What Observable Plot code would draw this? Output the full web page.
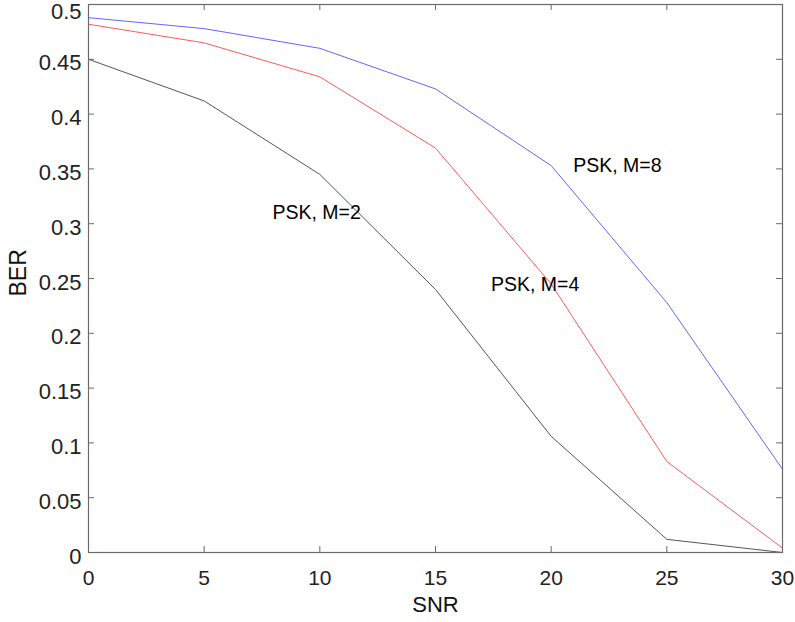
<!DOCTYPE html>
<html>
<head>
<meta charset="utf-8">
<script src="https://cdn.jsdelivr.net/npm/d3@7"></script>
<script src="https://cdn.jsdelivr.net/npm/@observablehq/plot@0.6"></script>
<style>
  html, body { margin: 0; padding: 0; background: #fff; }
  #chart svg { display: block; }
</style>
</head>
<body>
<div id="chart"></div>
<script>
const snr = [0, 5, 10, 15, 20, 25, 30];
const berM2 = [0.450, 0.412, 0.345, 0.240, 0.106, 0.012, 0.000];
const berM4 = [0.482, 0.465, 0.434, 0.369, 0.245, 0.083, 0.004];
const berM8 = [0.488, 0.478, 0.460, 0.423, 0.353, 0.228, 0.076];
const seriesNames = ["PSK, M=2", "PSK, M=4", "PSK, M=8"];
const seriesColors = ["#555555", "#ff5a5a", "#6464ff"];
const labelX = [7.95, 17.4, 20.95];
const labelY = [0.310, 0.244, 0.353];
const xTicks = [0, 5, 10, 15, 20, 25, 30];
const yTicks = [0, 0.05, 0.1, 0.15, 0.2, 0.25, 0.3, 0.35, 0.4, 0.45, 0.5];

const allSeries = [berM2, berM4, berM8];
const rows = allSeries.flatMap((vals, i) =>
  vals.map((v, j) => ({snr: snr[j], ber: v, series: seriesNames[i]})));
const labels = seriesNames.map((name, i) => ({name, x: labelX[i], y: labelY[i]}));
const yTop = yTicks[yTicks.length - 1];

const font = "Liberation Sans, Arial, Helvetica, sans-serif";
const W = 795, H = 622, ML = 88, MR = 13, MT = 4, MB = 70;
const plotW = W - ML - MR, plotH = H - MT - MB, tick = 6;
const axisColor = "#6a6a6a";

const chart = Plot.plot({
  width: W,
  height: H,
  marginLeft: ML,
  marginRight: MR,
  marginTop: MT,
  marginBottom: MB,
  style: {fontFamily: font, background: "#fff"},
  x: {domain: [0, 30], label: null},
  y: {domain: [0, 0.5], label: null},
  color: {domain: seriesNames, range: seriesColors},
  marks: [
    Plot.line(rows, {x: "snr", y: "ber", z: "series", stroke: "series", strokeWidth: 1}),
    Plot.text(labels, {x: "x", y: "y", text: "name", textAnchor: "start", fontSize: 19.5, fill: "#000"}),
    Plot.tickX(xTicks, {x: d => d, insetTop: plotH - tick, stroke: axisColor}),
    Plot.tickX(xTicks, {x: d => d, insetBottom: plotH - tick, stroke: axisColor}),
    Plot.tickY(yTicks, {y: d => d, insetRight: plotW - tick, stroke: axisColor}),
    Plot.tickY(yTicks, {y: d => d, insetLeft: plotW - tick, stroke: axisColor}),
    Plot.frame({stroke: axisColor, strokeWidth: 1.2}),
    Plot.axisX({ticks: xTicks, anchor: "bottom", tickSize: 0, tickPadding: 18, fontSize: 21, fill: "#222", tickFormat: d => String(d), label: null}),
    Plot.axisY({ticks: yTicks.filter(t => t !== yTop), anchor: "left", tickSize: 0, tickPadding: 7, dy: 4, fontSize: 22, fill: "#222", tickFormat: d => String(d), label: null}),
    Plot.axisY({ticks: [yTop], anchor: "left", tickSize: 0, tickPadding: 7, dy: 7, fontSize: 22, fill: "#222", tickFormat: d => String(d), label: null}),
    Plot.text(["SNR"], {frameAnchor: "bottom", dy: 59, fontSize: 22, fill: "#111"}),
    Plot.text(["BER"], {frameAnchor: "left", dx: -70, dy: 18, rotate: -90, fontSize: 23, fill: "#111"})
  ]
});
document.getElementById("chart").appendChild(chart);
</script>
</body>
</html>
